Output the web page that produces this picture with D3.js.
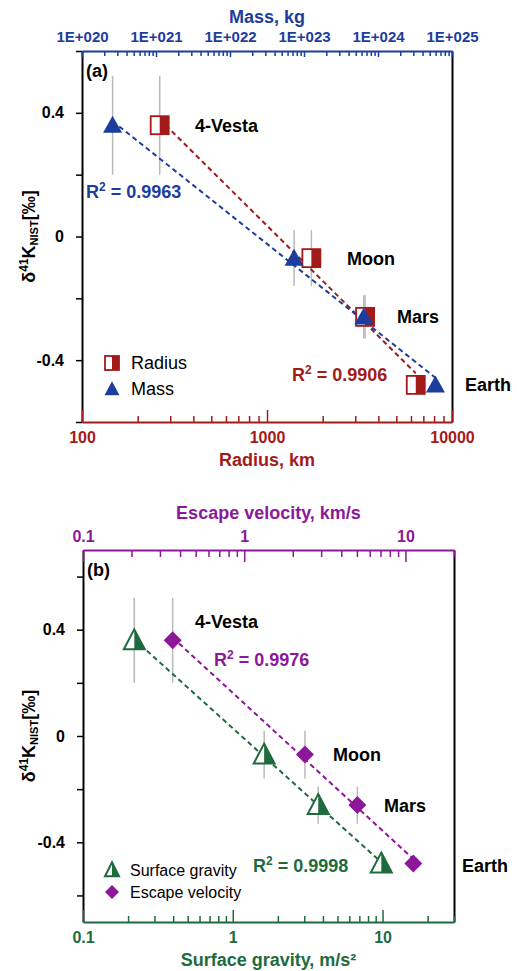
<!DOCTYPE html>
<html>
<head>
<meta charset="utf-8">
<script src="https://cdn.jsdelivr.net/npm/d3@7"></script>
<style>
  body { margin: 0; background: #fff; }
  svg text { font-family: "Liberation Sans", Arial, sans-serif; }
</style>
</head>
<body>
<div id="chart"></div>
<script>
// data
const bodies = ['4-Vesta', 'Moon', 'Mars', 'Earth'];
const delta41K = [0.36, -0.07, -0.26, -0.48];
const delta41KErr = [0.16, 0.09, 0.07, 0.02];
const radiusKm = [263, 1737, 3390, 6371];
const massKg = [2.59e20, 7.35e22, 6.42e23, 5.97e24];
const surfaceGravity = [0.22, 1.62, 3.72, 9.81];
const escapeVelocity = [0.36, 2.38, 5.03, 11.19];
const r2Labels = ['0.9963', '0.9906', '0.9976', '0.9998'];

const massTicks = [1e20, 1e21, 1e22, 1e23, 1e24, 1e25];
const radiusTicks = [100, 1000, 10000];
const velocityTicks = [0.1, 1, 10];
const gravityTicks = [0.1, 1, 10];
const yLabelTicks = [-0.4, 0, 0.4];

const colors = {
  red: '#a31a1a', blue: '#1c3d9e', green: '#1e6b3d', purple: '#8c1899', grey: '#b9b9b9'
};

const svg = d3.select('#chart').append('svg')
  .attr('width', 517).attr('height', 971);

// all 1..9 x 10^n values inside a log domain
function logMinors(domain) {
  const out = [];
  const lo = Math.floor(Math.log10(domain[0])), hi = Math.ceil(Math.log10(domain[1]));
  for (let e = lo; e <= hi; e++) {
    for (let k = 1; k < 10; k++) {
      const v = k * Math.pow(10, e);
      if (v >= domain[0] * 0.999 && v <= domain[1] * 1.001) out.push(v);
    }
  }
  return out;
}

function isMajor(v, majors) {
  return majors.some(m => Math.abs(v / m - 1) < 1e-6);
}

function logAxis(y0, scale, side, majors, fmt, color, majorLen, minorLen, pad, fontSize) {
  const axisFn = side === 'top' ? d3.axisTop : d3.axisBottom;
  const minors = logMinors(scale.domain()).filter(v => !isMajor(v, majors));
  const g = svg.append('g').attr('transform', `translate(0,${y0})`);

  g.append('g')
    .call(axisFn(scale).tickValues(minors).tickSize(-minorLen).tickSizeOuter(0).tickFormat(''))
    .call(a => a.select('.domain').remove());

  const major = g.append('g')
    .call(axisFn(scale).tickValues(majors).tickSize(-majorLen).tickSizeOuter(0)
      .tickPadding(pad).tickFormat(fmt));
  major.select('.domain').attr('stroke', color).attr('stroke-width', 2);

  g.selectAll('.tick line').attr('stroke', color).attr('stroke-width', 1.5);
  g.selectAll('.tick text')
    .attr('fill', color)
    .attr('font-size', fontSize)
    .attr('font-weight', 'bold')
    .style('font-family', '"Liberation Sans", Arial, sans-serif');
}

function frameY(y, xLeft, xRight) {
  const ticks = d3.range(-6, 7).map(i => i / 10)
    .filter(v => v >= y.domain()[0] - 1e-9 && v <= y.domain()[1] + 1e-9 && Math.round(v * 10) % 2 === 0);
  const left = svg.append('g').attr('transform', `translate(${xLeft},0)`)
    .call(d3.axisLeft(y).tickValues(ticks).tickSize(6).tickSizeOuter(0).tickPadding(12)
      .tickFormat(d => yLabelTicks.some(t => Math.abs(t - d) < 1e-9) ? (Math.abs(d) < 1e-9 ? '0' : d.toFixed(1)) : ''));
  left.select('.domain').attr('stroke', '#000').attr('stroke-width', 2);
  left.selectAll('.tick line').attr('stroke', '#000').attr('stroke-width', 1.5);
  left.selectAll('.tick text')
    .attr('fill', '#000').attr('font-size', 16).attr('font-weight', 'bold')
    .style('font-family', '"Liberation Sans", Arial, sans-serif');

  const right = svg.append('g').attr('transform', `translate(${xRight},0)`)
    .call(d3.axisRight(y).tickValues([]).tickSizeOuter(0));
  right.select('.domain').attr('stroke', '#000').attr('stroke-width', 2);
}

// least-squares fit of delta vs log10(x), drawn between the outer points
function fitLine(xs, ys) {
  const lx = xs.map(Math.log10);
  const mx = d3.mean(lx), my = d3.mean(ys);
  const b = d3.sum(lx, (v, i) => (v - mx) * (ys[i] - my)) / d3.sum(lx, v => (v - mx) * (v - mx));
  const a = my - b * mx;
  const x0 = d3.min(xs), x1 = d3.max(xs);
  return [[x0, a + b * Math.log10(x0)], [x1, a + b * Math.log10(x1)]];
}

// marker painters
function halfSquare(g, cx, cy, s, color) {
  g.append('rect').attr('x', cx - s / 2).attr('y', cy - s / 2).attr('width', s).attr('height', s)
    .attr('fill', '#fff').attr('stroke', color).attr('stroke-width', 1.8);
  g.append('rect').attr('x', cx).attr('y', cy - s / 2).attr('width', s / 2).attr('height', s)
    .attr('fill', color);
}

function triangle(g, cx, cy, w, h, color) {
  g.append('path')
    .attr('d', `M${cx},${cy - h * 0.55}L${cx + w / 2},${cy + h * 0.45}L${cx - w / 2},${cy + h * 0.45}Z`)
    .attr('fill', color);
}

function halfTriangle(g, cx, cy, w, h, color) {
  const top = cy - h * 0.55, bot = cy + h * 0.45;
  g.append('path')
    .attr('d', `M${cx},${top}L${cx + w / 2},${bot}L${cx - w / 2},${bot}Z`)
    .attr('fill', '#fff').attr('stroke', color).attr('stroke-width', 2).attr('stroke-linejoin', 'miter');
  g.append('path')
    .attr('d', `M${cx},${top}L${cx + w / 2},${bot}L${cx},${bot}Z`)
    .attr('fill', color);
}

function diamond(g, cx, cy, r, color) {
  g.append('path')
    .attr('d', `M${cx},${cy - r}L${cx + r},${cy}L${cx},${cy + r}L${cx - r},${cy}Z`)
    .attr('fill', color);
}

function text(x, y, str, opts = {}) {
  return svg.append('text')
    .attr('x', x).attr('y', y)
    .attr('font-size', opts.size || 18)
    .attr('font-weight', opts.weight || 'bold')
    .attr('fill', opts.color || '#000')
    .attr('text-anchor', opts.anchor || 'start')
    .text(str);
}

function yTitle(x, cy) {
  const t = svg.append('text')
    .attr('transform', `translate(${x},${cy}) rotate(-90)`)
    .attr('text-anchor', 'middle')
    .attr('font-size', 18).attr('font-weight', 'bold').attr('fill', '#000');
  t.append('tspan').text('δ');
  t.append('tspan').attr('font-size', 12).attr('dy', -7).text('41');
  t.append('tspan').attr('dy', 7).text('K');
  t.append('tspan').attr('font-size', 11).attr('dy', 3).text('NIST');
  t.append('tspan').attr('dy', -3).text('[‰]');
}

function drawPanel(p) {
  const { xB, xT, y } = p;
  const left = xB.range()[0], right = xB.range()[1];

  frameY(y, left, right);
  logAxis(y.range()[1], xT, 'top', p.topTicks, p.topFmt, p.topColor, p.topMajor, p.topMinor, p.topPad, p.topFont);
  logAxis(y.range()[0], xB, 'bottom', p.botTicks, p.botFmt, p.botColor, 12, 6, 10, 16);

  text((left + right) / 2, p.topTitleY, p.topTitle, { color: p.topColor, anchor: 'middle' });
  text((left + right) / 2, p.botTitleY, p.botTitle, { color: p.botColor, anchor: 'middle' });
  yTitle(35, (y(0.6) + y(-0.6)) / 2);
  text(left + 4, p.tagY, p.tag);

  const plot = svg.append('g');

  // error bars
  [p.seriesB, p.seriesT].forEach(s => {
    s.xs.forEach((xv, i) => {
      const sx = s.scale(xv);
      plot.append('line')
        .attr('x1', sx).attr('x2', sx)
        .attr('y1', y(delta41K[i] + delta41KErr[i])).attr('y2', y(delta41K[i] - delta41KErr[i]))
        .attr('stroke', colors.grey).attr('stroke-width', 1.5);
    });
  });

  // regression lines
  [p.seriesB, p.seriesT].forEach(s => {
    const f = fitLine(s.xs, delta41K);
    plot.append('line')
      .attr('x1', s.scale(f[0][0])).attr('y1', y(f[0][1]))
      .attr('x2', s.scale(f[1][0])).attr('y2', y(f[1][1]))
      .attr('stroke', s.color).attr('stroke-width', 2)
      .attr('stroke-dasharray', '5,3.5');
  });

  // markers
  [p.seriesB, p.seriesT].forEach(s => {
    s.xs.forEach((xv, i) => s.mark(plot, s.scale(xv), y(delta41K[i]), false));
  });

  // body names
  bodies.forEach((b, i) => {
    text(p.nameX[i], y(delta41K[i]) + p.nameDy[i] + 6.5, b);
  });

  // R2 notes
  p.r2.forEach(r => {
    const t = text(r.x, r.y, '', { color: r.color });
    t.append('tspan').text('R');
    t.append('tspan').attr('font-size', 12).attr('dy', -7).text('2');
    t.append('tspan').attr('dy', 7).text(' = ' + r.value);
  });

  // legend
  p.legend.forEach((l, i) => {
    const ly = p.legendY + i * p.legendGap;
    l.mark(svg, 112, ly, true);
    text(l.tx, ly + p.legendFont * 0.35, l.label, { weight: 'normal', size: p.legendFont });
  });
}

// ---- panel (a)
const xRadius = d3.scaleLog().domain([100, 10000]).range([82, 452]);
const xMass = d3.scaleLog().domain([1e20, 1e25]).range([82, 452]);
const yA = d3.scaleLinear().domain([-0.6, 0.6]).range([422, 51]);

const markRadius = (g, x, y, small) => halfSquare(g, x, y, small ? 14 : 18, colors.red);
const markMass = (g, x, y, small) => triangle(g, x, y, small ? 15 : 19, small ? 14 : 17, colors.blue);

drawPanel({
  xB: xRadius, xT: xMass, y: yA,
  topTicks: massTicks,
  topFmt: d => '1E+' + String(Math.round(Math.log10(d))).padStart(3, '0'),
  topColor: colors.blue, topMajor: 6, topMinor: 5, topPad: 9, topFont: 15,
  botTicks: radiusTicks, botFmt: d3.format('d'), botColor: colors.red,
  topTitle: 'Mass, kg', topTitleY: 23,
  botTitle: 'Radius, km', botTitleY: 466,
  tag: '(a)', tagY: 77,
  seriesB: { xs: radiusKm, scale: xRadius, color: colors.red, mark: markRadius },
  seriesT: { xs: massKg, scale: xMass, color: colors.blue, mark: markMass },
  nameX: [195, 347, 397, 465],
  nameDy: [0, 0, 0, 0],
  r2: [
    { x: 86, y: 198, value: r2Labels[0], color: colors.blue },
    { x: 292, y: 381, value: r2Labels[1], color: colors.red }
  ],
  legend: [
    { label: 'Radius', mark: markRadius, tx: 131 },
    { label: 'Mass', mark: markMass, tx: 131 }
  ],
  legendY: 363, legendGap: 26, legendFont: 18
});

// ---- panel (b)
const xGravity = d3.scaleLog().domain([0.1, 30]).range([83, 454]);
const xVelocity = d3.scaleLog().domain([0.1, 20]).range([83, 454]);
const yB = d3.scaleLinear().domain([-0.7, 0.7]).range([922, 550]);

const markGravity = (g, x, y, small) => halfTriangle(g, x, y, small ? 14 : 21, small ? 14 : 20, colors.green);
const markVelocity = (g, x, y, small) => diamond(g, x, y, small ? 7 : 9, colors.purple);

const decimalFmt = d => d < 1 ? String(d) : d3.format('d')(d);

drawPanel({
  xB: xGravity, xT: xVelocity, y: yB,
  topTicks: velocityTicks, topFmt: decimalFmt,
  topColor: colors.purple, topMajor: 12, topMinor: 7, topPad: 8, topFont: 16,
  botTicks: gravityTicks, botFmt: decimalFmt, botColor: colors.green,
  topTitle: 'Escape velocity, km/s', topTitleY: 519,
  botTitle: 'Surface gravity, m/s²', botTitleY: 966,
  tag: '(b)', tagY: 576,
  seriesB: { xs: surfaceGravity, scale: xGravity, color: colors.green, mark: markGravity },
  seriesT: { xs: escapeVelocity, scale: xVelocity, color: colors.purple, mark: markVelocity },
  nameX: [195, 333, 384, 462],
  nameDy: [-19, 0, 0, 2],
  r2: [
    { x: 214, y: 666, value: r2Labels[2], color: colors.purple },
    { x: 253, y: 872, value: r2Labels[3], color: colors.green }
  ],
  legend: [
    { label: 'Surface gravity', mark: markGravity, tx: 130 },
    { label: 'Escape velocity', mark: markVelocity, tx: 130 }
  ],
  legendY: 870, legendGap: 22, legendFont: 16
});
</script>
</body>
</html>
